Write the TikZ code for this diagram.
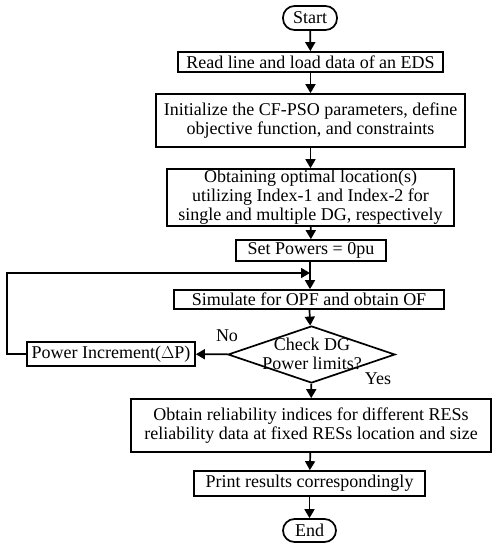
\documentclass[tikz,border=0pt]{standalone}
\usepackage{fontspec}
\setmainfont{Liberation Serif}
\usetikzlibrary{shapes.geometric,arrows.meta}
\begin{document}
\begin{tikzpicture}[x=1pt,y=-1pt,
  every node/.style={font=\fontsize{18}{19}\selectfont},
  procbox/.style={draw,line width=1.7pt,inner sep=0pt,align=center},
  term/.style={draw,line width=1.7pt,inner sep=0pt,rounded corners=11.5pt},
  dec/.style={draw,diamond,line width=1.7pt,inner sep=0pt},
  arr/.style={line width=1.7pt,-{Triangle[length=9pt,width=10pt]}},
  lbl/.style={inner sep=0pt}]
\useasboundingbox (0,0) rectangle (501,550);
\node[term,minimum width=54pt,minimum height=24pt] (start) at (310,18) {Start};
\node[procbox,minimum width=265pt,minimum height=20pt] (b1) at (310.5,62) {Read line and load data of an EDS};
\node[procbox,minimum width=309pt,minimum height=53pt] (b2) at (310.5,120.5) {Initialize the CF-PSO parameters, define\\objective function, and constraints};
\node[procbox,minimum width=287pt,minimum height=57pt] (b3) at (310.5,197.5) {Obtaining optimal location(s)\\utilizing Index-1 and Index-2 for\\single and multiple DG, respectively};
\node[procbox,minimum width=150pt,minimum height=21pt] (b4) at (311,250.5) {Set Powers = 0pu};
\node[procbox,minimum width=270pt,minimum height=19pt] (b5) at (309,299.5) {Simulate for OPF and obtain OF};
\node[dec,minimum width=167pt,minimum height=57pt] (d) at (311.5,354.5) {};
\node[lbl,align=center] (dt) at (312,354) {Check DG\\Power limits?};
\node[procbox,minimum width=168pt,minimum height=24pt] (pi) at (111,354) {Power Increment($\Delta$P)};
\node[procbox,minimum width=360pt,minimum height=53pt] (b6) at (311,425.5) {Obtain reliability indices for different RESs\\reliability data at fixed RESs location and size};
\node[procbox,minimum width=231pt,minimum height=25pt] (b7) at (309.5,483.5) {Print results correspondingly};
\node[term,minimum width=53pt,minimum height=23pt] (end) at (309.5,530.5) {End};
\coordinate (j) at (310,273);
\coordinate (lc) at (7,273);
\coordinate (lb) at (7,354);
\draw[arr] (start) -- (b1);
\draw[arr] (b1) -- (b2);
\draw[arr] (b2) -- (b3);
\draw[arr] (b3) -- (b4);
\draw[arr] (b4.south -| j) -- (b5.north -| j);
\draw[arr] (b5) -- (d);
\draw[arr] (d) -- (b6);
\draw[arr] (b6) -- (b7);
\draw[arr] (b7) -- (end);
\draw[arr] (d) -- (pi);
\draw[arr] (pi.west) -- (lb) -- (lc) -- (j);
\node[lbl] (no) at (227,336) {No};
\node[lbl] (yes) at (378,379) {Yes};
\end{tikzpicture}
\end{document}
